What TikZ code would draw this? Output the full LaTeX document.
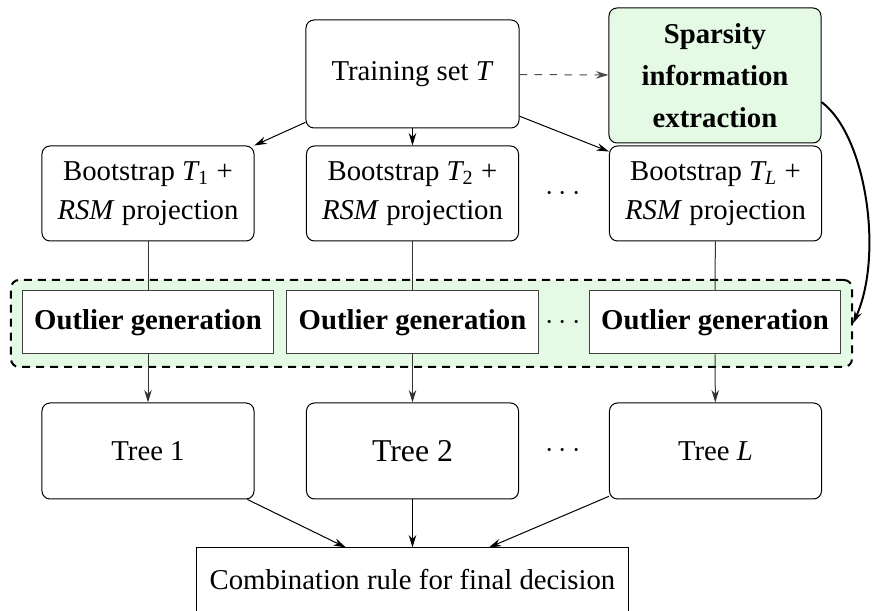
\documentclass[tikz,border=0pt]{standalone}
\usepackage{fontspec}
\setmainfont{Liberation Serif}
\usetikzlibrary{arrows.meta}
\definecolor{sparsegreen}{RGB}{229,250,229}

\begin{document}
\begin{tikzpicture} [x = 0.4pt, y = -0.4pt,
  >={Stealth[length=5pt, width=3pt]},
  every node/.style = {font=\fontsize{11.5}{15.6}\selectfont},
  roundbox/.style = {draw, rounded corners=3.2pt, align=center, inner sep=2pt, minimum width=84.8pt},
  outbox/.style = {draw=black!75, fill=white, inner sep=2pt, minimum width=100.6pt, minimum height=25.2pt,
    font=\fontsize{11.5}{15.6}\selectfont\bfseries},
  groupbox/.style = {draw, line width=0.8pt, dash pattern=on 3.2pt off 2.4pt, rounded corners=3.2pt, fill=sparsegreen}]
\useasboundingbox (0, 0) rectangle (876, 611);

% dashed group behind the outlier boxes
\node[groupbox, minimum width=336.4pt, minimum height=34.8pt] (grp) at (431.5, 323.5){};

% top row
\node[roundbox, minimum width=85.2pt, minimum height=43.2pt] (train) at (412.5, 74.0){Training set \textit{T}};
\node[roundbox, fill=sparsegreen, minimum height=54pt, font=\fontsize{11.5}{16.8}\selectfont\bfseries] (spar) at (715.0, 75.5){Sparsity\\information\\extraction};

% bootstrap row
\node[roundbox, minimum height=38pt] (boot1) at (148.0, 193.5){Bootstrap $\mathit{T}_{\mathrm{1}}$ +\\\textit{RSM} projection};
\node[roundbox, minimum height=38pt] (boot2) at (412.5, 193.5){Bootstrap $\mathit{T}_{\mathrm{2}}$ +\\\textit{RSM} projection};
\node[roundbox, minimum height=38pt] (bootL) at (715.5, 193.5){Bootstrap $\mathit{T}_{\mathit{L}}$ +\\\textit{RSM} projection};
\node[] (dots1) at (563.0, 193.5){$\cdots$};

% outlier row
\node[outbox] (out1) at (148.0, 322.5){Outlier generation};
\node[outbox] (out2) at (412.5, 322.5){Outlier generation};
\node[outbox] (outL) at (715.0, 322.5){Outlier generation};
\node[] (dots2) at (563.0, 322.5){$\cdots$};

% tree row
\node[roundbox, minimum height=38.4pt] (tree1) at (148.0, 451.0){Tree 1};
\node[roundbox, minimum height=38.4pt, font=\fontsize{12.7}{15.6}\selectfont] (tree2) at (412.5, 451.0){Tree 2};
\node[roundbox, minimum height=38.4pt] (treeL) at (715.5, 451.0){Tree \textit{L}};
\node[] (dots3) at (563.0, 451.0){$\cdots$};

% final decision
\node[draw, minimum width=172.4pt, minimum height=25.6pt] (comb) at (412.5, 580.0){Combination rule for final decision};

% connectors
\draw[->, dashed, draw=black!70] (train) -- (spar);
\draw[->] (train) -- (boot1);
\draw[->] (train) -- (boot2);
\draw[->] (train) -- (bootL);
\draw[draw=black!80] (boot1) -- (out1);
\draw[draw=black!80] (boot2) -- (out2);
\draw[draw=black!80] (bootL) -- (outL);
\draw[->, draw=black!80] (out1) -- (tree1);
\draw[->, draw=black!80] (out2) -- (tree2);
\draw[->, draw=black!80] (outL) -- (treeL);
\draw[->] (tree1) -- (comb);
\draw[->] (tree2) -- (comb);
\draw[->] (treeL) -- (comb);
\draw[->, line width=0.8pt] (spar.-14) .. controls (866, 135) and (884, 255) .. (grp.east);
\end{tikzpicture}
\end{document}
